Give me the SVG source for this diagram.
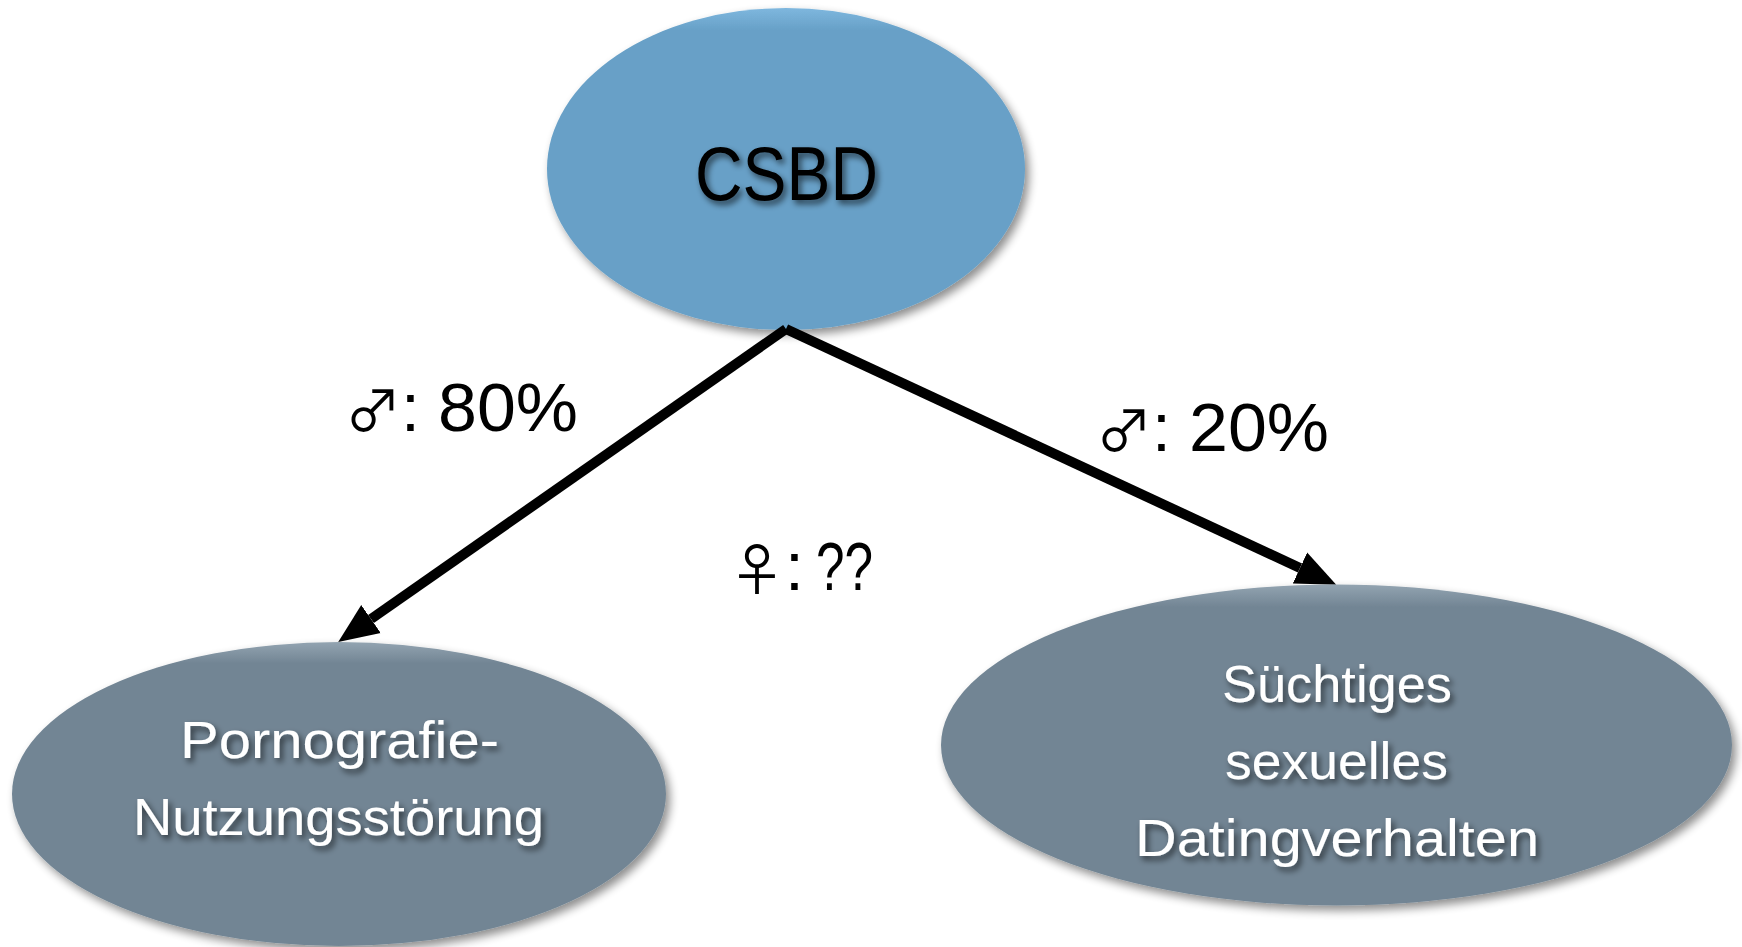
<svg xmlns="http://www.w3.org/2000/svg" width="1742" height="947" viewBox="0 0 1742 947">
<defs>
<linearGradient id="gBlue" x1="0" y1="0" x2="0" y2="1">
<stop offset="0" stop-color="#7eb7de"/>
<stop offset="0.07" stop-color="#67a0c7"/>
<stop offset="1" stop-color="#67a0c7"/>
</linearGradient>
<linearGradient id="gGrey" x1="0" y1="0" x2="0" y2="1">
<stop offset="0" stop-color="#93a4b1"/>
<stop offset="0.07" stop-color="#728594"/>
<stop offset="1" stop-color="#728594"/>
</linearGradient>
<filter id="shadow" x="-10%" y="-10%" width="125%" height="130%">
<feGaussianBlur in="SourceAlpha" stdDeviation="5"/>
<feOffset dx="4" dy="5" result="b"/>
<feComponentTransfer><feFuncA type="linear" slope="0.45"/></feComponentTransfer>
<feMerge><feMergeNode/><feMergeNode in="SourceGraphic"/></feMerge>
</filter>
<filter id="tshadow" x="-10%" y="-20%" width="120%" height="150%">
<feGaussianBlur in="SourceAlpha" stdDeviation="3"/>
<feOffset dx="3" dy="4"/>
<feComponentTransfer><feFuncA type="linear" slope="0.6"/></feComponentTransfer>
<feMerge><feMergeNode/><feMergeNode in="SourceGraphic"/></feMerge>
</filter>
<marker id="arrow" markerUnits="userSpaceOnUse" markerWidth="42" markerHeight="36" refX="0" refY="17" orient="auto" viewBox="0 0 42 34">
<path d="M0,0 L40,17 L0,34 z" fill="#000"/>
</marker>
</defs>
<style>
.node { filter: url(#shadow); }
.lbl { font-family: "Liberation Sans", "DejaVu Sans", sans-serif; fill: #000; font-size: 68px; }
.sym { font-family: "Noto Sans CJK JP", "DejaVu Sans", sans-serif; font-size: 56px; }
.ntext { font-family: "Liberation Sans", "DejaVu Sans", sans-serif; fill: #fff; font-size: 52px; text-anchor: middle; filter: url(#tshadow); }
.ctext { font-family: "Liberation Sans", "DejaVu Sans", sans-serif; fill: #000; font-size: 76px; text-anchor: middle; filter: url(#tshadow); }
.edge { stroke: #000; stroke-width: 10; fill: none; marker-end: url(#arrow); }
</style>
<rect width="1742" height="947" fill="#fff"/>
<g id="node-csbd">
<ellipse class="node" cx="786" cy="169" rx="239" ry="161" fill="url(#gBlue)"/>
<text class="ctext" x="786.5" y="200" textLength="183" lengthAdjust="spacingAndGlyphs">CSBD</text>
</g>
<g id="connectors">
<line class="edge" x1="786" y1="329" x2="371" y2="619"/>
<line class="edge" x1="786" y1="329" x2="1300" y2="568"/>
</g>
<g id="node-porn">
<ellipse class="node" cx="339" cy="794" rx="327" ry="152" fill="url(#gGrey)"/>
<text class="ntext" x="339.5" y="758" textLength="319" lengthAdjust="spacingAndGlyphs">Pornografie-</text>
<text class="ntext" x="338.5" y="835" textLength="411" lengthAdjust="spacingAndGlyphs">Nutzungsstörung</text>
</g>
<g id="node-dating">
<ellipse class="node" cx="1336.5" cy="745" rx="395.5" ry="160.5" fill="url(#gGrey)"/>
<text class="ntext" x="1337" y="702" textLength="230" lengthAdjust="spacingAndGlyphs">Süchtiges</text>
<text class="ntext" x="1336.5" y="779" textLength="223" lengthAdjust="spacingAndGlyphs">sexuelles</text>
<text class="ntext" x="1337" y="856" textLength="404" lengthAdjust="spacingAndGlyphs">Datingverhalten</text>
</g>
<g id="labels">
<text class="lbl" y="431"><tspan class="sym" x="345">♂</tspan><tspan x="401">:</tspan><tspan x="438" textLength="140" lengthAdjust="spacingAndGlyphs">80%</tspan></text>
<text class="lbl" y="451"><tspan class="sym" x="1096">♂</tspan><tspan x="1152">:</tspan><tspan x="1189" textLength="140" lengthAdjust="spacingAndGlyphs">20%</tspan></text>
<text class="lbl" y="590" font-size="60"><tspan class="sym" x="729">♀</tspan><tspan x="785">:</tspan><tspan x="816" textLength="57" lengthAdjust="spacingAndGlyphs">??</tspan></text>
</g>
</svg>
